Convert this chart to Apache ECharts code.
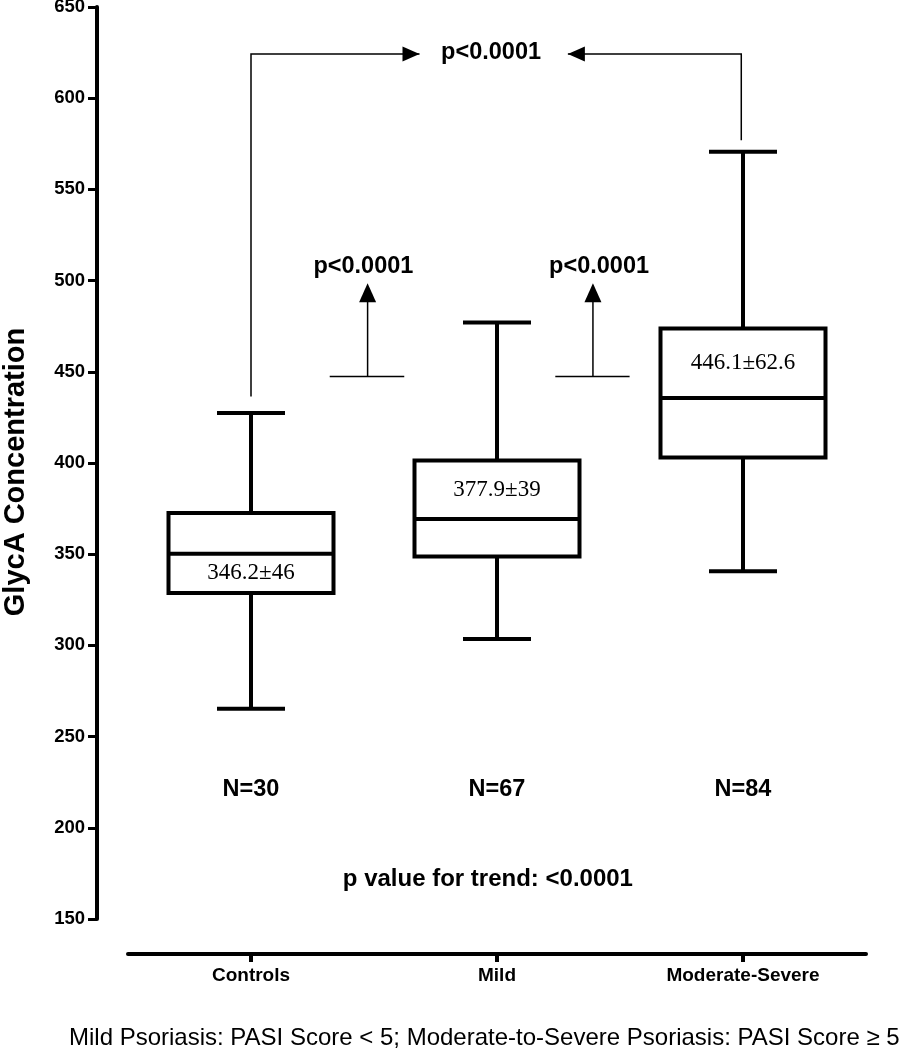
<!DOCTYPE html>
<html>
<head>
<meta charset="utf-8">
<script src="https://cdn.jsdelivr.net/npm/echarts@6/dist/echarts.min.js"></script>
<style>
html,body{margin:0;padding:0;background:#fff;}
#chart{width:904px;height:1050px;}
</style>
</head>
<body>
<div id="chart"></div>
<script>
// ---- data ----
const categories = ['Controls', 'Mild', 'Moderate-Severe'];
const whiskerLow = [265.3, 303.5, 340.6];
const quartile1 = [328.7, 348.8, 403.0];
const medians = [350.3, 369.3, 435.6];
const quartile3 = [372.6, 401.4, 473.7];
const whiskerHigh = [427.4, 477.0, 570.7];
const meanSdLabels = ['346.2±46', '377.9±39', '446.1±62.6'];
const nLabels = ['N=30', 'N=67', 'N=84'];
const yMin = 150, yMax = 650, yStep = 50;
const pairLabel = 'p<0.0001';
const trendLabel = 'p value for trend: <0.0001';
const yTitle = 'GlycA Concentration';
const footnote = 'Mild Psoriasis: PASI Score < 5; Moderate-to-Severe Psoriasis: PASI Score \u2265 5';

// ---- chart ----
const SANS = '"Liberation Sans", Arial, Helvetica, sans-serif';
const SERIF = '"Liberation Serif", "Times New Roman", serif';
const chart = echarts.init(document.getElementById('chart'), null, {renderer: 'canvas'});

const boxData = categories.map((c, i) => [i, whiskerLow[i], quartile1[i], medians[i], quartile3[i], whiskerHigh[i]]);

function renderBox(params, api) {
  const i = params.dataIndex;
  const pt = v => api.coord([i, v]);
  const x = pt(medians[i])[0];
  const yLo = pt(whiskerLow[i])[1], yQ1 = pt(quartile1[i])[1], yMed = pt(medians[i])[1];
  const yQ3 = pt(quartile3[i])[1], yHi = pt(whiskerHigh[i])[1];
  const hw = 82.5, cw = 34, lw = 4;
  const ls = {stroke: '#000', lineWidth: lw, fill: null};
  // mean±SD label sits in the lower half for the first group, upper half otherwise
  const labelY = i === 0 ? (yMed + yQ1) / 2 : (yMed + yQ3) / 2;
  const yN = pt(221)[1];
  return {
    type: 'group',
    children: [
      {type: 'line', shape: {x1: x, y1: yQ3, x2: x, y2: yHi}, style: ls},
      {type: 'line', shape: {x1: x - cw, y1: yHi, x2: x + cw, y2: yHi}, style: ls},
      {type: 'line', shape: {x1: x, y1: yQ1, x2: x, y2: yLo}, style: ls},
      {type: 'line', shape: {x1: x - cw, y1: yLo, x2: x + cw, y2: yLo}, style: ls},
      {type: 'rect', shape: {x: x - hw, y: yQ3, width: 2 * hw, height: yQ1 - yQ3},
        style: {stroke: '#000', lineWidth: lw, fill: '#fff'}},
      {type: 'line', shape: {x1: x - hw, y1: yMed, x2: x + hw, y2: yMed}, style: ls},
      {type: 'text', style: {text: meanSdLabels[i], x: x, y: labelY, align: 'center', verticalAlign: 'middle',
        fontFamily: SERIF, fontSize: 23, fill: '#000'}},
      {type: 'text', style: {text: nLabels[i], x: x, y: yN, align: 'center', verticalAlign: 'middle',
        fontFamily: SANS, fontSize: 23.5, fontWeight: 'bold', fill: '#000'}}
    ]
  };
}

function renderAnnotations(params, api) {
  const c = (x, y) => api.coord([x, y]);
  const thin = {stroke: '#000', lineWidth: 1.5, fill: null};
  const kids = [];
  const poly = pts => ({type: 'polygon', shape: {points: pts}, style: {fill: '#000'}});
  const txt = (t, p, size) => ({type: 'text', style: {text: t, x: p[0], y: p[1], align: 'center', verticalAlign: 'middle',
    fontFamily: SANS, fontSize: size, fontWeight: 'bold', fill: '#000'}});
  // top bracket
  const topY = 624.3;
  let a = c(0, 436.5), b = c(0, topY), t = c(0.685, topY);
  kids.push({type: 'polyline', shape: {points: [a, b, t]}, style: thin});
  kids.push(poly([t, [t[0] - 17, t[1] - 7.5], [t[0] - 17, t[1] + 7.5]]));
  a = c(1.993, 577); b = c(1.993, topY); t = c(1.288, topY);
  kids.push({type: 'polyline', shape: {points: [a, b, t]}, style: thin});
  kids.push(poly([t, [t[0] + 17, t[1] - 7.5], [t[0] + 17, t[1] + 7.5]]));
  kids.push(txt(pairLabel, c(0.976, 624.8), 23.5));
  // pairwise arrows
  [[0.32, 0.623, 0.474, 0.457], [1.237, 1.539, 1.39, 1.415]].forEach(d => {
    const l = c(d[0], 447.4), r = c(d[1], 447.4), base = c(d[2], 447.4), tip = c(d[2], 498.6);
    kids.push({type: 'line', shape: {x1: l[0], y1: l[1], x2: r[0], y2: r[1]}, style: thin});
    kids.push({type: 'line', shape: {x1: base[0], y1: base[1], x2: tip[0], y2: tip[1] + 15}, style: thin});
    kids.push(poly([tip, [tip[0] - 8.5, tip[1] + 19], [tip[0] + 8.5, tip[1] + 19]]));
    kids.push(txt(pairLabel, c(d[3], 507.7), 23.5));
  });
  kids.push(txt(trendLabel, c(0.963, 171.6), 24));
  return {type: 'group', children: kids};
}

chart.setOption({
  animation: false,
  backgroundColor: '#fff',
  title: {
    text: footnote, left: 64, top: 1021,
    textStyle: {fontFamily: SANS, fontSize: 24, fontWeight: 'normal', color: '#000'}
  },
  grid: {left: 128, right: 38, top: 7, bottom: 131, containLabel: false, outerBoundsMode: 'none'},
  xAxis: [{
    type: 'category', data: categories, offset: 35,
    axisLine: {onZero: false, lineStyle: {color: '#000', width: 4}},
    axisTick: {show: true, alignWithLabel: true, length: 8, lineStyle: {color: '#000', width: 4}},
    axisLabel: {color: '#000', fontFamily: SANS, fontSize: 19, fontWeight: 'bold', margin: 12},
    splitLine: {show: false}
  }, {
    type: 'value', min: -0.5, max: 2.5, show: false, splitLine: {show: false},
    axisLine: {onZero: false}
  }],
  yAxis: {
    type: 'value', min: yMin, max: yMax, interval: yStep, offset: 31,
    name: yTitle, nameLocation: 'middle', nameGap: 67, nameRotate: 90,
    nameTextStyle: {color: '#000', fontFamily: SANS, fontSize: 29, fontWeight: 'bold', padding: [0, 18, 0, 0]},
    axisLine: {show: true, onZero: false, lineStyle: {color: '#000', width: 4}},
    axisTick: {show: true, length: 9, lineStyle: {color: '#000', width: 3}},
    axisLabel: {color: '#000', fontFamily: SANS, fontSize: 18.5, fontWeight: 'bold', margin: 12},
    splitLine: {show: false}
  },
  series: [{
    type: 'custom', xAxisIndex: 0, yAxisIndex: 0,
    data: boxData, encode: {x: 0, y: [1, 2, 3, 4, 5]},
    renderItem: renderBox, clip: false, z: 2
  }, {
    type: 'custom', xAxisIndex: 1, yAxisIndex: 0,
    data: [[1, 400]], encode: {x: 0, y: 1},
    renderItem: renderAnnotations, clip: false, z: 3
  }]
});
</script>
</body>
</html>
